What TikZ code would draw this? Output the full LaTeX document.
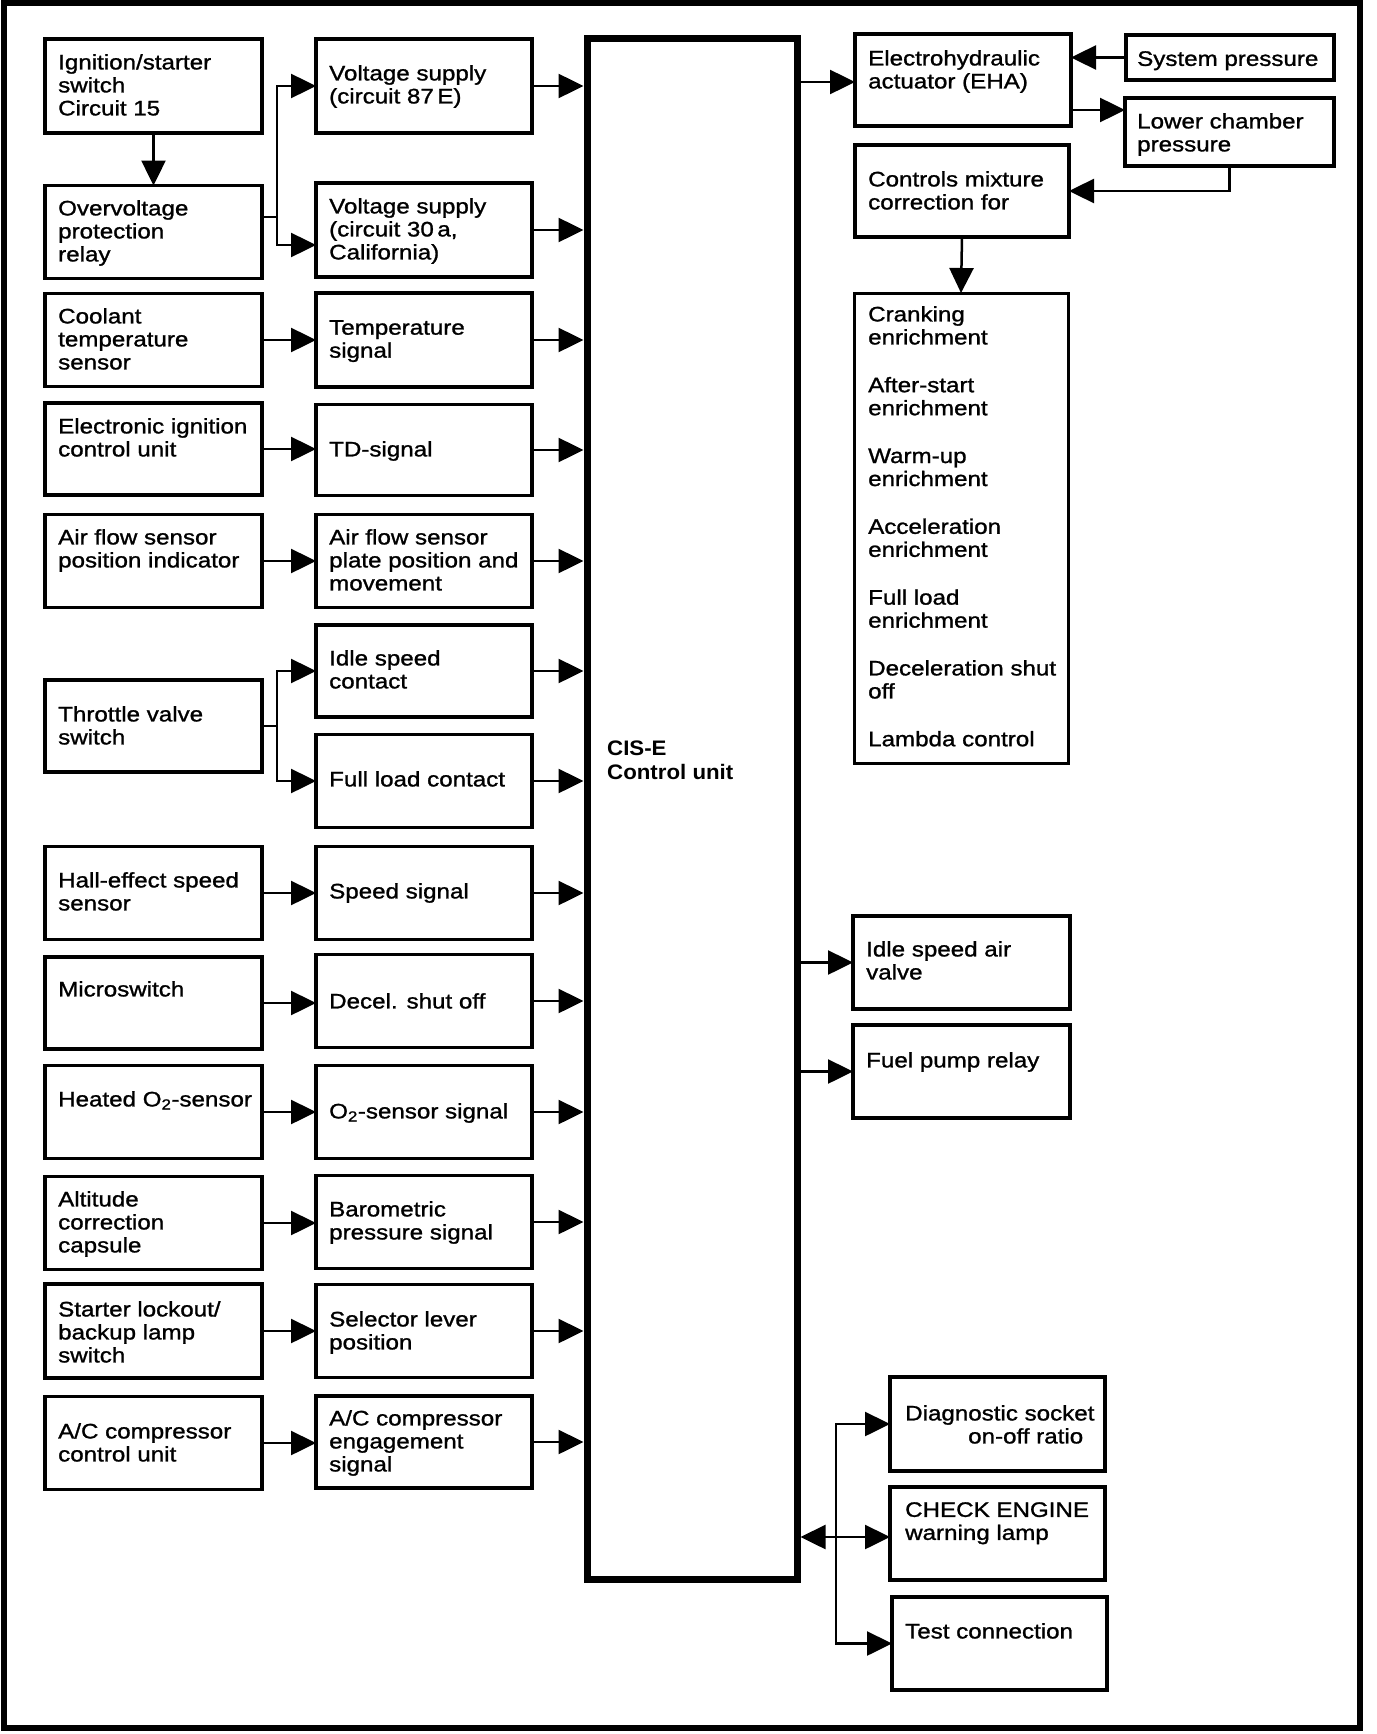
\documentclass[tikz,border=0pt]{standalone}
\usepackage{fontspec}
\setmainfont{Liberation Sans}[FakeStretch=1.15,FakeBold=1.2]
\newfontfamily\cufont{Liberation Sans Bold}[FakeStretch=1.06]
\usetikzlibrary{arrows.meta}
\begin{document}
\begin{tikzpicture}[x=1pt,y=-1pt,
  box/.style={draw, line width=3.5pt, inner sep=0pt, outer sep=0pt},
  txt/.style={anchor=north west, inner sep=0pt, yshift=2pt, align=left, font=\fontsize{21pt}{23pt}\selectfont},
  arr/.style={line width=2.5pt, -{Triangle[length=25pt,width=24pt]}},
  ln/.style={line width=2.5pt}]
\useasboundingbox (0,0) rectangle (1376,1734);
\draw[line width=6pt] (4,3) rectangle (1360,1728);

% control unit
\node[draw, line width=7pt, minimum width=210pt, minimum height=1540pt, inner sep=0pt] (cu) at (692,809) {};
\node[txt, font=\fontsize{21pt}{24pt}\cufont] (tcu) at (607,743) {CIS-E\\Control unit};

% column 1
\node[box, minimum width=217pt, minimum height=94pt] (ign) at (153.5,86) {};
\node[box, minimum width=217pt, minimum height=93pt] (over) at (153.5,232) {};
\node[box, minimum width=217pt, minimum height=93pt] (cool) at (153.5,340) {};
\node[box, minimum width=217pt, minimum height=92pt] (eic) at (153.5,449) {};
\node[box, minimum width=217pt, minimum height=93pt] (afs) at (153.5,561) {};
\node[box, minimum width=217pt, minimum height=92pt] (thr) at (153.5,726) {};
\node[box, minimum width=217pt, minimum height=93pt] (hall) at (153.5,893) {};
\node[box, minimum width=217pt, minimum height=92pt] (micro) at (153.5,1003) {};
\node[box, minimum width=217pt, minimum height=93pt] (otwo) at (153.5,1112) {};
\node[box, minimum width=217pt, minimum height=93pt] (alt) at (153.5,1223) {};
\node[box, minimum width=217pt, minimum height=94pt] (start) at (153.5,1331) {};
\node[box, minimum width=217pt, minimum height=93pt] (ac) at (153.5,1443) {};

\node[txt] (tign) at (58,56) {Ignition/starter\\switch\\Circuit 15};
\node[txt] (tover) at (58,202) {Overvoltage\\protection\\relay};
\node[txt] (tcool) at (58,310) {Coolant\\temperature\\sensor};
\node[txt] (teic) at (58,420) {Electronic ignition\\control unit};
\node[txt] (tafs) at (58,531) {Air flow sensor\\position indicator};
\node[txt] (tthr) at (58,708) {Throttle valve\\switch};
\node[txt] (thall) at (58,874) {Hall-effect speed\\sensor};
\node[txt] (tmicro) at (58,983) {Microswitch};
\node[txt] (totwo) at (58,1093) {Heated O\textsubscript{2}-sensor};
\node[txt] (talt) at (58,1193) {Altitude\\correction\\capsule};
\node[txt] (tstart) at (58,1303) {Starter lockout/\\backup lamp\\switch};
\node[txt] (tac) at (58,1425) {A/C compressor\\control unit};

% column 2
\node[box, minimum width=216pt, minimum height=94pt] (vse) at (424,86) {};
\node[box, minimum width=216pt, minimum height=94pt] (vsa) at (424,230) {};
\node[box, minimum width=216pt, minimum height=94pt] (temp) at (424,340) {};
\node[box, minimum width=216pt, minimum height=91pt] (td) at (424,450) {};
\node[box, minimum width=216pt, minimum height=93pt] (afp) at (424,561) {};
\node[box, minimum width=216pt, minimum height=92pt] (idle) at (424,671) {};
\node[box, minimum width=216pt, minimum height=93pt] (full) at (424,781) {};
\node[box, minimum width=216pt, minimum height=93pt] (speed) at (424,893) {};
\node[box, minimum width=216pt, minimum height=93pt] (decel) at (424,1001) {};
\node[box, minimum width=216pt, minimum height=93pt] (otwos) at (424,1112) {};
\node[box, minimum width=216pt, minimum height=93pt] (baro) at (424,1222) {};
\node[box, minimum width=216pt, minimum height=93pt] (sel) at (424,1331) {};
\node[box, minimum width=216pt, minimum height=92pt] (ace) at (424,1442) {};

\node[txt] (tvse) at (329,67) {Voltage supply\\(circuit 87\,E)};
\node[txt] (tvsa) at (329,200) {Voltage supply\\(circuit 30\,a,\\California)};
\node[txt] (ttemp) at (329,322) {Temperature\\signal};
\node[txt] (ttd) at (329,443) {TD-signal};
\node[txt] (tafp) at (329,531) {Air flow sensor\\plate position and\\movement};
\node[txt] (tidle) at (329,652) {Idle speed\\contact};
\node[txt] (tfull) at (329,773) {Full load contact};
\node[txt] (tspeed) at (329,885) {Speed signal};
\node[txt] (tdecel) at (329,995) {Decel. shut off};
\node[txt] (totwos) at (329,1105) {O\textsubscript{2}-sensor signal};
\node[txt] (tbaro) at (329,1203) {Barometric\\pressure signal};
\node[txt] (tsel) at (329,1313) {Selector lever\\position};
\node[txt] (tace) at (329,1412) {A/C compressor\\engagement\\signal};

% right side
\node[box, minimum width=216pt, minimum height=92pt] (eha) at (963,80) {};
\node[box, minimum width=208pt, minimum height=45pt] (sysp) at (1230,57.5) {};
\node[box, minimum width=209pt, minimum height=68pt] (lcp) at (1229.5,132) {};
\node[box, minimum width=214pt, minimum height=92pt] (ctrl) at (962,191) {};
\node[box, line width=3pt, minimum width=214pt, minimum height=470pt] (enr) at (961,528) {};
\node[box, minimum width=217pt, minimum height=93pt] (isav) at (961.5,962.5) {};
\node[box, minimum width=217pt, minimum height=93pt] (fpr) at (961.5,1071.5) {};
\node[box, minimum width=215pt, minimum height=94pt] (diag) at (997.5,1424) {};
\node[box, minimum width=215pt, minimum height=93pt] (check) at (997.5,1533.5) {};
\node[box, minimum width=215pt, minimum height=93pt] (test) at (999.5,1643.5) {};

\node[txt] (teha) at (868,52) {Electrohydraulic\\actuator (EHA)};
\node[txt] (tsysp) at (1137,53) {System pressure};
\node[txt] (tlcp) at (1137,115) {Lower chamber\\pressure};
\node[txt] (tctrl) at (868,173) {Controls mixture\\correction for};
\node[txt] (tenr) at (868,308) {Cranking\\enrichment\\[24.8pt]After-start\\enrichment\\[24.8pt]Warm-up\\enrichment\\[24.8pt]Acceleration\\enrichment\\[24.8pt]Full load\\enrichment\\[24.8pt]Deceleration shut\\off\\[24.8pt]Lambda control};
\node[txt] (tisav) at (866,943) {Idle speed air\\valve};
\node[txt] (tfpr) at (866,1054) {Fuel pump relay};
\node[txt] (tdiag) at (905,1407) {Diagnostic socket\\\hspace*{63pt}on-off ratio};
\node[txt] (tcheck) at (905,1504) {CHECK ENGINE\\warning lamp};
\node[txt] (ttest) at (905,1625) {Test connection};

% connectors left
\draw[arr] (ign.south) -- (over.north);
\coordinate (ja) at (277,217);
\draw[ln] (over.east |- ja) -- (ja);
\draw[arr] (ja) |- (vse.west);
\draw[arr] (ja) |- (vsa.west |- 0,245);
\coordinate (jb) at (277,726);
\draw[ln] (thr.east |- jb) -- (jb);
\draw[arr] (jb) |- (idle.west);
\draw[arr] (jb) |- (full.west);
\foreach \a/\b in {cool/temp,eic/td,afs/afp,hall/speed,micro/decel,otwo/otwos,alt/baro,start/sel,ac/ace}
  \draw[arr] (\a.east) -- (\a.east -| \b.west);
\foreach \b in {vse,vsa,temp,td,afp,idle,full,speed,decel,otwos,baro,sel,ace}
  \draw[arr] (\b.east) -- (\b.east -| cu.west);

% connectors right
\draw[arr] (cu.east |- 0,82) -- (eha.west |- 0,82);
\draw[arr] (sysp.west) -- (sysp.west -| eha.east);
\draw[arr] (eha.east |- 0,110) -- (lcp.west |- 0,110);
\draw[arr] (lcp.south) |- (ctrl.east);
\draw[arr] (ctrl.south) -- (enr.north);
\draw[arr] (cu.east |- isav.west) -- (isav.west);
\draw[arr] (cu.east |- fpr.west) -- (fpr.west);
\coordinate (jc) at (836,1537);
\draw[arr] (jc) -- (cu.east |- jc);
\draw[arr] (jc) -- (check.west |- jc);
\draw[arr] (jc) |- (diag.west);
\draw[arr] (jc) |- (test.west);
\end{tikzpicture}
\end{document}
